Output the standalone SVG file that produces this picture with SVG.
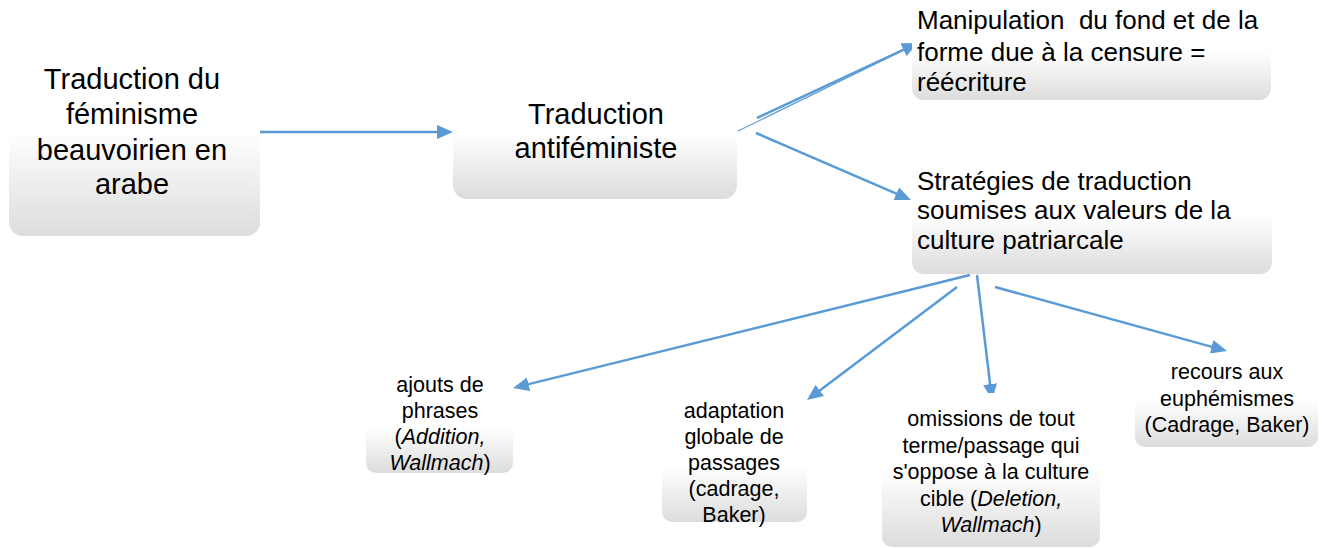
<svg xmlns="http://www.w3.org/2000/svg" width="1325" height="548" viewBox="0 0 1325 548">
<style>
.box{fill:url(#g);}
.t{font-family:"Liberation Sans",Arial,sans-serif;fill:#000;}
.big{font-size:29px;text-anchor:middle;}
.mid{font-size:26px;}
.sm{font-size:21.5px;text-anchor:middle;}
.c{stroke:#5B9BD5;stroke-width:2.5;fill:none;}
</style>
<defs>
<linearGradient id="g" x1="0" y1="0" x2="0" y2="1">
<stop offset="0" stop-color="#ffffff"/>
<stop offset="0.5" stop-color="#ffffff"/>
<stop offset="1" stop-color="#dcdcdc"/>
</linearGradient>
<marker id="ah" markerUnits="userSpaceOnUse" markerWidth="16" markerHeight="14" refX="5" refY="7" orient="auto">
<path d="M0,0 L16,7 L0,14 z" fill="#5B9BD5"/>
</marker>
</defs>
<g id="connectors">
<line class="c" x1="260" y1="132" x2="442" y2="132" marker-end="url(#ah)"/>
<line class="c" style="stroke-width:1.2" x1="738" y1="131" x2="906" y2="49"/>
<line class="c" x1="757" y1="118" x2="908" y2="47.6" marker-end="url(#ah)"/>
<line class="c" x1="756" y1="133" x2="900.9" y2="195.6" marker-end="url(#ah)"/>
<line class="c" x1="970" y1="275" x2="523.7" y2="385.4" marker-end="url(#ah)"/>
<line class="c" x1="957" y1="287" x2="815.8" y2="393.4" marker-end="url(#ah)"/>
<line class="c" x1="977" y1="275" x2="990.7" y2="389.1" marker-end="url(#ah)"/>
<line class="c" x1="995" y1="287" x2="1216.4" y2="348.1" marker-end="url(#ah)"/>
</g>
<g id="n1">
<rect class="box" x="9" y="28" width="251" height="208" rx="14"/>
<text class="t big"><tspan x="132" y="89">Traduction du</tspan><tspan x="132" y="124">féminisme</tspan><tspan x="132" y="160">beauvoirien en</tspan><tspan x="132" y="194">arabe</tspan></text>
</g>
<g id="n2">
<rect class="box" x="453" y="69" width="284" height="130" rx="14"/>
<text class="t big"><tspan x="596" y="124">Traduction</tspan><tspan x="596" y="158">antiféministe</tspan></text>
</g>
<g id="n3">
<rect class="box" x="912" y="4" width="359" height="96" rx="12"/>
<text class="t mid" xml:space="preserve"><tspan x="917" y="29">Manipulation  du fond et de la</tspan><tspan x="917" y="61">forme due à la censure =</tspan><tspan x="917" y="91">réécriture</tspan></text>
</g>
<g id="n4">
<rect class="box" x="912" y="156" width="360" height="118" rx="12"/>
<text class="t mid"><tspan x="917" y="190">Stratégies de traduction</tspan><tspan x="917" y="219">soumises aux valeurs de la</tspan><tspan x="917" y="249">culture patriarcale</tspan></text>
</g>
<g id="n5">
<rect class="box" x="366" y="381" width="147" height="92" rx="10"/>
<text class="t sm"><tspan x="440" y="392">ajouts de</tspan><tspan x="440" y="418">phrases</tspan><tspan x="440" y="444">(<tspan font-style="italic">Addition,</tspan></tspan><tspan x="440" y="470"><tspan font-style="italic">Wallmach</tspan>)</tspan></text>
</g>
<g id="n6">
<rect class="box" x="662" y="412" width="145" height="110" rx="10"/>
<text class="t sm"><tspan x="734" y="418">adaptation</tspan><tspan x="734" y="444">globale de</tspan><tspan x="734" y="470">passages</tspan><tspan x="734" y="496">(cadrage,</tspan><tspan x="734" y="522">Baker)</tspan></text>
</g>
<g id="n7">
<rect class="box" x="882" y="393" width="218" height="154" rx="10"/>
<text class="t sm"><tspan x="991" y="426">omissions de tout</tspan><tspan x="991" y="452.5">terme/passage qui</tspan><tspan x="991" y="479">s'oppose à la culture</tspan><tspan x="991" y="505.5">cible (<tspan font-style="italic">Deletion,</tspan></tspan><tspan x="991" y="532"><tspan font-style="italic">Wallmach</tspan>)</tspan></text>
</g>
<g id="n8">
<rect class="box" x="1135" y="353" width="183" height="94" rx="10"/>
<text class="t sm"><tspan x="1227" y="379">recours aux</tspan><tspan x="1227" y="405.5">euphémismes</tspan><tspan x="1227" y="432">(Cadrage, Baker)</tspan></text>
</g>
</svg>
